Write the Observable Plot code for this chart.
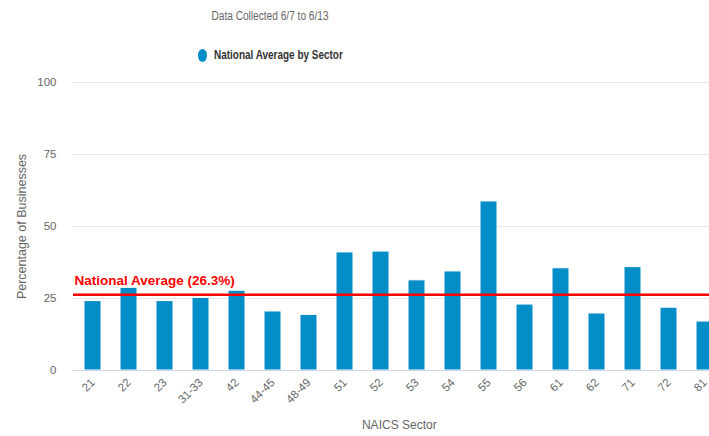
<!DOCTYPE html>
<html>
<head>
<meta charset="utf-8">
<script src="https://cdn.jsdelivr.net/npm/d3@7"></script>
<script src="https://cdn.jsdelivr.net/npm/@observablehq/plot@0.6"></script>
<style>
  html, body { margin: 0; padding: 0; background: #fff; overflow: hidden; }
  #header { position: relative; width: 709px; height: 70px; }
  .title { position: absolute; left: 269.5px; top: 16px; transform: translate(-50%, -50%) scaleX(0.81);
    font-family: "Liberation Sans", Arial, sans-serif; font-size: 12.5px; color: #666; white-space: nowrap; }
  .swatch { position: absolute; left: 198px; top: 49px; width: 9px; height: 12.5px; border-radius: 50%; background: #058DC7; }
  .legendLabel { position: absolute; left: 214px; top: 55px; transform-origin: 0 50%; transform: translateY(-50%) scaleX(0.83);
    font-family: "Liberation Sans", Arial, sans-serif; font-size: 12px; font-weight: bold; color: #333; white-space: nowrap; }
  #chart svg { display: block; }
</style>
</head>
<body>
<div id="header">
  <div class="title" id="title"></div>
  <span class="swatch"></span>
  <span class="legendLabel" id="legendLabel"></span>
</div>
<div id="chart"></div>
<script>
const titleText = "Data Collected 6/7 to 6/13";
const seriesName = "National Average by Sector";
const sectors = ["21","22","23","31-33","42","44-45","48-49","51","52","53","54","55","56","61","62","71","72","81"];
const values = [24.1, 28.7, 24.1, 25.2, 27.7, 20.5, 19.3, 41.0, 41.3, 31.3, 34.4, 58.7, 22.9, 35.5, 19.8, 35.9, 21.8, 17.0];
const nationalAverage = 26.3;
const yTicks = [0, 25, 50, 75, 100];
const xTitle = "NAICS Sector";
const yTitle = "Percentage of Businesses";

document.getElementById("title").textContent = titleText;
document.getElementById("legendLabel").textContent = seriesName;

const data = sectors.map((s, i) => ({sector: s, value: values[i]}));

const chart = Plot.plot({
  width: 709,
  height: 366,
  marginTop: 12,
  marginBottom: 66,
  marginLeft: 73,
  marginRight: -15.6,
  style: {fontFamily: "'Liberation Sans', Arial, sans-serif", fontSize: "11.5px", color: "#666", background: "transparent"},
  x: {domain: sectors, paddingInner: 0.53, paddingOuter: 0.265, label: null, axis: null},
  y: {domain: [0, 100], label: null, axis: null},
  marks: [
    Plot.gridY(yTicks.filter(d => d > 0), {stroke: "#e6e6e6", strokeOpacity: 1}),
    Plot.barY(data, {x: "sector", y: "value", fill: "#058DC7", stroke: "#ffffff", strokeWidth: 1}),
    Plot.ruleY([0], {stroke: "#ccd6eb"}),
    Plot.ruleY([nationalAverage], {stroke: "#ff0000", strokeWidth: 2.5}),
    Plot.text([nationalAverage], {y: d => d, text: d => `National Average (${d}%)`, frameAnchor: "left",
      textAnchor: "start", dx: 1, dy: -14, fill: "#ff0000", fontWeight: "bold", fontSize: 13.5}),
    Plot.axisY({ticks: yTicks, tickSize: 0, tickPadding: 17, fill: "#666", fontSize: 11.5, label: null}),
    Plot.axisX({tickSize: 0, tickRotate: -45, tickPadding: 10, fill: "#666", fontSize: 11.5, label: null}),
    Plot.text([xTitle], {text: d => d, frameAnchor: "bottom", dy: 58, fontSize: 12, fill: "#666"}),
    Plot.text([yTitle], {text: d => d, frameAnchor: "left", textAnchor: "middle", dx: -52, rotate: -90, fontSize: 12.5, fill: "#666"})
  ]
});
document.getElementById("chart").appendChild(chart);
</script>
</body>
</html>
